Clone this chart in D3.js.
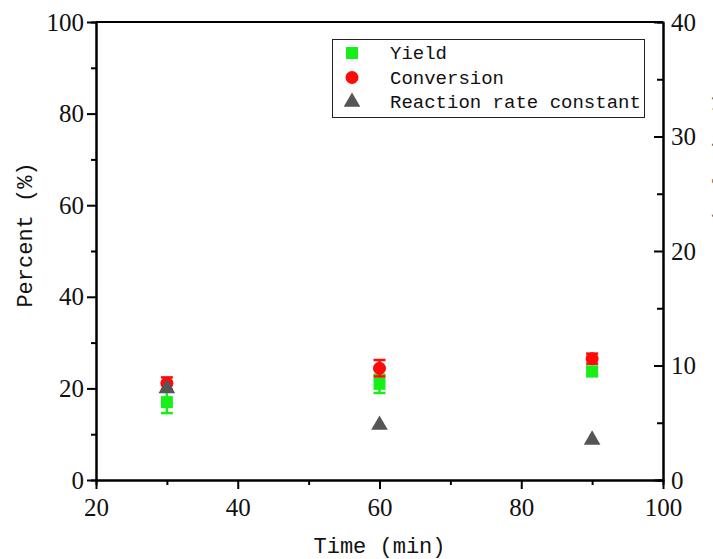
<!DOCTYPE html>
<html>
<head>
<meta charset="utf-8">
<script src="https://cdn.jsdelivr.net/npm/d3@7"></script>
<style>
  html, body { margin: 0; padding: 0; background: #fff; }
  svg { display: block; }
</style>
</head>
<body>
<svg id="chart" width="713" height="559"></svg>
<script>
// Sampling times (min)
const times = [30, 60, 90];
// Left axis series (%)
const yieldVals = [17.0, 21.0, 23.7];
const yieldErr = [2.4, 2.0, 1.0];
const conversionVals = [21.1, 24.4, 26.5];
const conversionErr = [1.3, 1.8, 1.1];
// Right axis series
const rateConstVals = [8.0, 4.8, 3.5];
// Axis ticks
const xTicks = [20, 40, 60, 80, 100];
const yLeftTicks = [0, 20, 40, 60, 80, 100];
const yRightTicks = [0, 10, 20, 30, 40];

const svg = d3.select("#chart");
const margin = { left: 96, right: 50, top: 22, bottom: 79 };
const W = 713, H = 559;
const x = d3.scaleLinear().domain([20, 100]).range([margin.left, W - margin.right]);
const yL = d3.scaleLinear().domain([0, 100]).range([H - margin.bottom, margin.top]);
const yR = d3.scaleLinear().domain([0, 40]).range([H - margin.bottom, margin.top]);

const numFont = "'Liberation Serif', 'Times New Roman', serif";
const txtFont = "'Liberation Mono', 'Courier New', monospace";

const x0 = x.range()[0], x1 = x.range()[1];
const yb = yL.range()[0], yt = yL.range()[1];

// Frame top border
svg.append("line").attr("x1", x0).attr("x2", x1).attr("y1", yt).attr("y2", yt)
  .attr("stroke", "#000").attr("stroke-width", 2);

function styleAxis(g) {
  g.selectAll(".domain").attr("stroke", "#000").attr("stroke-width", 2);
  g.selectAll(".tick line").attr("stroke", "#000").attr("stroke-width", 2);
  g.selectAll(".tick text").attr("font-family", numFont).attr("font-size", 25).attr("fill", "#111");
}

// Minor ticks
function minor(axisGen, vals, len) { return axisGen.tickValues(vals).tickSize(len).tickFormat(""); }

// Bottom axis
svg.append("g").attr("transform", `translate(0,${yb})`)
  .call(minor(d3.axisBottom(x), [30, 50, 70, 90], 5)).call(styleAxis);
svg.append("g").attr("transform", `translate(0,${yb})`)
  .call(d3.axisBottom(x).tickValues(xTicks).tickSize(9).tickSizeOuter(0).tickPadding(9))
  .call(styleAxis);

// Left axis
svg.append("g").attr("transform", `translate(${x0},0)`)
  .call(minor(d3.axisLeft(yL), [10, 30, 50, 70, 90], 5)).call(styleAxis);
svg.append("g").attr("transform", `translate(${x0},0)`)
  .call(d3.axisLeft(yL).tickValues(yLeftTicks).tickSize(9).tickSizeOuter(0).tickPadding(3))
  .call(styleAxis);

// Right axis: ticks point inward, labels outside
const rAxis = svg.append("g").attr("transform", `translate(${x1},0)`);
rAxis.call(minor(d3.axisRight(yR), [5, 15, 25, 35], -6)).call(styleAxis);
const rMajor = svg.append("g").attr("transform", `translate(${x1},0)`)
  .call(d3.axisRight(yR).tickValues(yRightTicks).tickSize(-9).tickSizeOuter(0).tickPadding(0))
  .call(styleAxis);
rMajor.selectAll(".tick text").attr("x", 8);

// Axis titles
svg.append("text").attr("x", (x0 + x1) / 2).attr("y", 553)
  .attr("text-anchor", "middle").attr("font-family", txtFont).attr("font-size", 22)
  .attr("fill", "#111").text("Time (min)");
svg.append("text").attr("transform", `translate(32,${(yt + yb) / 2 - 16}) rotate(-90)`)
  .attr("text-anchor", "middle").attr("font-family", txtFont).attr("font-size", 22)
  .attr("fill", "#111").text("Percent (%)");
svg.append("text").attr("transform", `translate(727,${(yt + yb) / 2 - 10}) rotate(-90)`)
  .attr("text-anchor", "middle").attr("font-family", txtFont).attr("font-size", 20)
  .attr("fill", "#666").text("Rate constant (10\u00B3 min\u207B\u00B9)");

const green = "#18ee18", red = "#ff0a0a", gray = "#555555";

function errorBars(vals, errs, color) {
  const g = svg.append("g").attr("stroke", color).attr("stroke-width", 2.5);
  times.forEach((t, i) => {
    const cx = x(t);
    g.append("line").attr("x1", cx).attr("x2", cx)
      .attr("y1", yL(vals[i] - errs[i])).attr("y2", yL(vals[i] + errs[i]));
    [vals[i] - errs[i], vals[i] + errs[i]].forEach(v => {
      g.append("line").attr("x1", cx - 6).attr("x2", cx + 6).attr("y1", yL(v)).attr("y2", yL(v));
    });
  });
}

// Yield
errorBars(yieldVals, yieldErr, green);
svg.append("g").selectAll("rect").data(times).join("rect")
  .attr("x", d => x(d) - 6).attr("y", (d, i) => yL(yieldVals[i]) - 6)
  .attr("width", 12).attr("height", 12).attr("fill", green);

// Conversion
errorBars(conversionVals, conversionErr, red);
svg.append("g").selectAll("circle").data(times).join("circle")
  .attr("cx", d => x(d)).attr("cy", (d, i) => yL(conversionVals[i]))
  .attr("r", 6.5).attr("fill", red);

// Reaction rate constant (right axis)
const tri = d3.symbol().type(d3.symbolTriangle).size(120);
svg.append("g").selectAll("path").data(times).join("path")
  .attr("transform", (d, i) => `translate(${x(d)},${yR(rateConstVals[i])})`)
  .attr("d", tri).attr("fill", gray);

// Legend
const legendItems = [
  { label: "Yield", kind: "square", color: green },
  { label: "Conversion", kind: "circle", color: red },
  { label: "Reaction rate constant", kind: "triangle", color: gray }
];
const lg = svg.append("g");
lg.append("rect").attr("x", 332.5).attr("y", 39.5).attr("width", 312).attr("height", 78)
  .attr("fill", "#fff").attr("stroke", "#222").attr("stroke-width", 1);
legendItems.forEach((it, i) => {
  const cy = 53 + i * 24.5;
  if (it.kind === "square") {
    lg.append("rect").attr("x", 346).attr("y", cy - 6).attr("width", 12).attr("height", 12).attr("fill", it.color);
  } else if (it.kind === "circle") {
    lg.append("circle").attr("cx", 352).attr("cy", cy).attr("r", 6.5).attr("fill", it.color);
  } else {
    lg.append("path").attr("transform", `translate(352,${cy})`).attr("d", tri).attr("fill", it.color);
  }
  lg.append("text").attr("x", 390).attr("y", cy + 6).attr("font-family", txtFont)
    .attr("font-size", 19).attr("fill", "#111").text(it.label);
});
</script>
</body>
</html>
